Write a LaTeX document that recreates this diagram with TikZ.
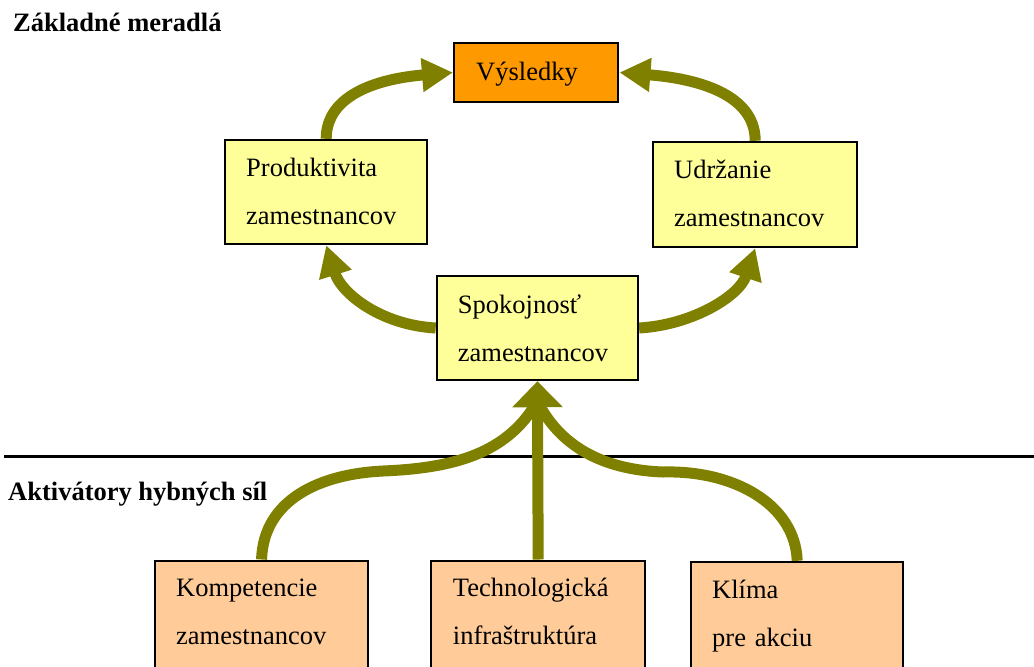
\documentclass[tikz,border=0pt]{standalone}
\usepackage{fontspec}
\setmainfont{Liberation Serif}
\usetikzlibrary{arrows.meta}
\pgfdeclarelayer{bg}
\pgfsetlayers{bg,main}
\definecolor{orangebox}{HTML}{FF9900}
\definecolor{yellowbox}{HTML}{FFFF99}
\definecolor{peachbox}{HTML}{FFCC99}
\definecolor{olivearrow}{HTML}{808000}
\tikzset{
  box/.style={draw=black, line width=2.4pt, rectangle, anchor=base west,
    align=left, inner ysep=0pt, inner xsep=21pt,
    font=\fontsize{26.5}{48}\selectfont},
  result/.style={box, fill=orangebox},
  metric/.style={box, fill=yellowbox},
  driver/.style={box, fill=peachbox},
  heading/.style={anchor=base west, inner sep=0pt,
    font=\fontsize{26.5}{30}\selectfont\bfseries},
  flow/.style={draw=olivearrow, line width=11pt},
  bigtip/.style={-{Triangle[length=31pt,width=32pt]}},
  mergetip/.style={-{Triangle[length=26pt,width=49pt]}}
}
\begin{document}
\begin{tikzpicture}[x=1pt,y=-1pt]
\useasboundingbox (0,0) rectangle (1034,667);
\clip (0,0) rectangle (1034,667);

% section headings
\node[heading] (hTop) at (13,31.5) {Základné meradlá};
\node[heading] (hBottom) at (8,500) {Aktivátory hybných síl};

% top-level result
\node[result, text width=120pt, inner xsep=22pt, text height=37pt, text depth=22pt]
  (res) at (453,80) {Výsledky};

% basic measures
\node[metric, text width=160pt, text height=36.7pt, text depth=67.3pt]
  (prod) at (224,176.7) {Produktivita\\zamestnancov};
\node[metric, text width=162pt, text height=36pt, text depth=69pt]
  (udr) at (652,178) {Udržanie\\zamestnancov};
\node[metric, text width=159pt, text height=37pt, text depth=67pt]
  (spok) at (435.7,313) {Spokojnosť\\zamestnancov};

% drivers
\node[driver, text width=170.7pt, text height=36pt, text depth=100pt]
  (komp) at (154,596.7) {Kompetencie\\zamestnancov};
\node[driver, text width=170.6pt, inner xsep=21.7pt, text height=36pt, text depth=100pt]
  (tech) at (430,596.7) {Technologická\\infraštruktúra};
\node[driver, text width=170pt, text height=36pt, text depth=100pt]
  (klima) at (690,598) {Klíma\\pre akciu};

\begin{pgfonlayer}{bg}
  % divider between the two levels
  \coordinate (divL) at (4,456);
  \coordinate (divR) at (1034,456);
  \draw[line width=3pt] (divL) -- (divR);

  % upper cycle
  \draw[flow, bigtip] (prod.north) .. controls +(0,-45) and +(-73,6) .. (res.west);
  \draw[flow, bigtip] (udr.north) .. controls +(0,-47) and +(77,6) .. (res.east);
  \draw[flow, bigtip] (spok.west) .. controls +(-55,-3) and +(15,48) .. (prod.south);
  \draw[flow, bigtip] (spok.east) .. controls +(53,-3) and +(-16,48) .. (udr.south);

  % drivers feeding satisfaction
  \draw[flow] (komp.north) .. controls +(2,-60) and +(-63,3) .. (383,471)
     .. controls +(72,-3) and +(-30,52) .. ([yshift=-20pt]spok.south);
  \draw[flow] (klima.north) .. controls +(-2,-57) and +(70,-2) .. (663,472)
     .. controls +(-53,-2) and +(25,50) .. ([yshift=-20pt]spok.south);
  \draw[flow, mergetip] (tech.north) -- (spok.south);
\end{pgfonlayer}
\end{tikzpicture}
\end{document}
